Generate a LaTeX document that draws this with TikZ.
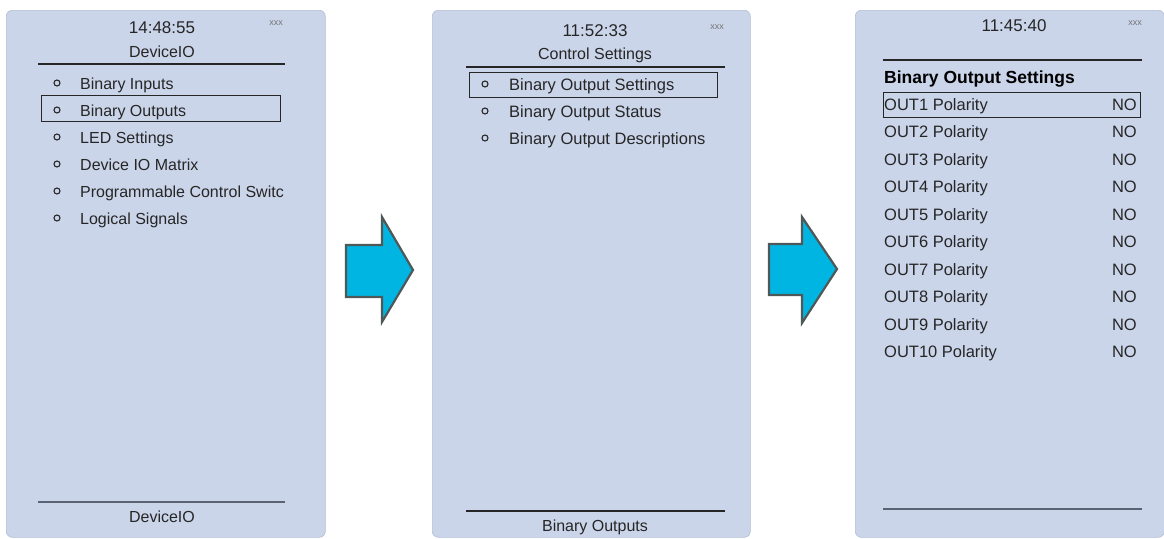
\documentclass[tikz,border=0pt]{standalone}
\usepackage{fontspec}
\setmainfont{Liberation Sans}
\definecolor{panelbg}{HTML}{CBD5EA}
\definecolor{panelbd}{HTML}{B4BED2}
\definecolor{arrowcyan}{HTML}{00B5E2}
\definecolor{arrowgray}{HTML}{4F5858}
\definecolor{lineGray}{HTML}{5A6274}
\begin{document}
\begin{tikzpicture}[x=1pt,y=-1pt,
  panel/.style={fill=panelbg, draw=panelbd, line width=0.6pt, rounded corners=6pt, inner sep=0pt, anchor=north west},
  txt/.style={inner sep=0pt, anchor=base, font=\fontsize{16}{18}\selectfont, text=black!85},
  item/.style={txt, anchor=base west},
  valtxt/.style={txt, anchor=base east},
  boldtxt/.style={inner sep=0pt, anchor=base west, font=\bfseries\fontsize{17.5}{19}\selectfont},
  timetxt/.style={txt, font=\fontsize{17}{19}\selectfont},
  small/.style={inner sep=0pt, font=\fontsize{9}{10}\selectfont, text=black!55},
  bul/.style={circle, draw=black!85, line width=1.1pt, inner sep=0pt, minimum size=6pt},
  sel/.style={draw=black!85, line width=1.2pt, inner sep=0pt, anchor=north west},
  sepline/.style={draw=black!85, line width=1.4pt},
  grayline/.style={draw=lineGray, line width=2.2pt},
  bigarrow/.style={fill=arrowcyan, draw=arrowgray, line width=2.2pt, line join=miter}]
\useasboundingbox (0,0) rectangle (1164,538);

% ---------------- panels
\node[panel, minimum width=319pt, minimum height=527pt] (p1) at (6,10) {};
\node[panel, minimum width=318pt, minimum height=527pt] (p2) at (432,10) {};
\node[panel, minimum width=309pt, minimum height=527pt] (p3) at (855,10) {};

% ---------------- panel 1
\node[timetxt] (t1) at (162,33) {14:48:55};
\node[small] (x1) at (276,23) {xxx};
\node[txt] (h1) at (162,57) {DeviceIO};
\draw[sepline] (38,64) -- (285,64);
\node[sel, minimum width=239pt, minimum height=26pt] (s1) at (41,95) {};
\foreach \i/\t in {0/Binary Inputs,1/Binary Outputs,2/LED Settings,3/Device IO Matrix,4/Programmable Control Switc,5/Logical Signals}{
  \node[bul] (b1\i) at (57,{83+27*\i}) {};
  \node[item] (i1\i) at (80,{89+27*\i}) {\t};
}
\draw[grayline] (38,502) -- (285,502);
\node[txt] (f1) at (162,522) {DeviceIO};

% ---------------- panel 2
\node[timetxt] (t2) at (595,36) {11:52:33};
\node[small] (x2) at (717,27) {xxx};
\node[txt] (h2) at (595,59) {Control Settings};
\draw[sepline] (466,67) -- (725,67);
\node[sel, minimum width=248pt, minimum height=25pt] (s2) at (469,72) {};
\foreach \i/\t in {0/Binary Output Settings,1/Binary Output Status,2/Binary Output Descriptions}{
  \node[bul] (b2\i) at (485,{84+27*\i}) {};
  \node[item, font=\fontsize{16.5}{18}\selectfont] (i2\i) at (509,{90+27*\i}) {\t};
}
\draw[sepline, line width=1.3pt] (466,511) -- (725,511);
\node[txt] (f2) at (595,531) {Binary Outputs};

% ---------------- panel 3
\node[timetxt] (t3) at (1014,31) {11:45:40};
\node[small] (x3) at (1135,23) {xxx};
\draw[sepline] (883,60) -- (1142,60);
\node[boldtxt] (h3) at (884,83) {Binary Output Settings};
\node[sel, minimum width=257pt, minimum height=25pt] (s3) at (883,92) {};
\foreach \i in {1,...,10}{
  \node[item, font=\fontsize{16.5}{18}\selectfont] (o\i) at (884,{110+27.55*(\i-1)}) {OUT\i{} Polarity};
  \node[valtxt, font=\fontsize{16.5}{18}\selectfont] (v\i) at (1137,{110+27.55*(\i-1)}) {NO};
}
\draw[grayline] (883,509) -- (1142,509);

% ---------------- arrows
\draw[bigarrow] (346,245) -- (382,245) -- (382,217) -- (413,270) -- (382,322) -- (382,297) -- (346,297) -- cycle;
\draw[bigarrow] (769,244) -- (802,244) -- (802,217) -- (837,269) -- (802,323) -- (802,295) -- (769,295) -- cycle;
\end{tikzpicture}
\end{document}
